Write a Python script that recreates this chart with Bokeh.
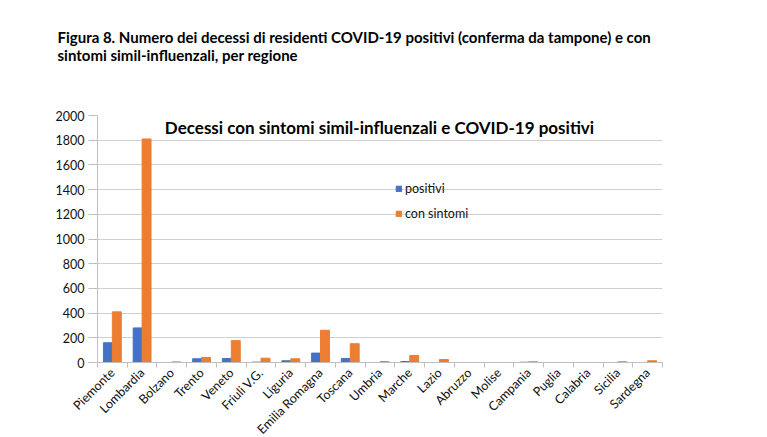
from math import pi
import numpy as np
from bokeh.plotting import figure
from bokeh.models import Range1d, FixedTicker, Label, Legend, LegendItem, Title
from bokeh.embed import file_html
from bokeh.resources import INLINE

# Deaths per region: COVID-19 positive vs. with flu-like symptoms
regions = ["Piemonte", "Lombardia", "Bolzano", "Trento", "Veneto", "Friuli V.G.",
           "Liguria", "Emilia Romagna", "Toscana", "Umbria", "Marche", "Lazio",
           "Abruzzo", "Molise", "Campania", "Puglia", "Calabria", "Sicilia", "Sardegna"]
positivi = [160, 280, 0, 30, 33, 3, 14, 76, 33, 0, 8, 0, 0, 0, 2, 0, 0, 0, 0]
con_sintomi = [410, 1810, 5, 41, 177, 35, 30, 261, 152, 8, 57, 24, 0, 0, 6, 0, 0, 6, 14]
y_ticks = list(range(0, 2001, 200))

BLUE = "#4472C4"
ORANGE = "#ED7D31"
FONT = "Lato"
TEXT = "#111111"

n = len(regions)
centers = np.arange(n) + 0.5
bar_w = 0.3

p = figure(width=767, height=437, frame_width=565, frame_height=247,
           output_backend="svg", toolbar_location=None,
           x_range=Range1d(0, n), y_range=Range1d(0, 2000),
           min_border_left=97, min_border_right=105,
           min_border_top=115, min_border_bottom=60)
p.outline_line_color = None
p.background_fill_color = "white"
p.border_fill_color = "white"

r_pos = p.vbar(x=centers - bar_w / 2, top=positivi, width=bar_w, color=BLUE)
r_con = p.vbar(x=centers + bar_w / 2, top=con_sintomi, width=bar_w, color=ORANGE)

# x axis: names under each group, short ticks between groups
p.xaxis.ticker = FixedTicker(ticks=list(centers), minor_ticks=list(range(n + 1)))
p.xaxis.major_label_overrides = {float(c): r for c, r in zip(centers, regions)}
p.xaxis.major_label_orientation = pi / 4
p.xaxis.major_tick_out = 0
p.xaxis.major_tick_in = 0
p.xaxis.minor_tick_out = 5
p.xaxis.minor_tick_in = 0
p.xaxis.minor_tick_line_color = "#bfbfbf"
p.xaxis.axis_line_color = "#bfbfbf"
p.xaxis.major_label_standoff = 3

p.yaxis.ticker = FixedTicker(ticks=y_ticks)
p.yaxis.minor_tick_line_color = None
p.yaxis.major_tick_out = 9
p.yaxis.major_tick_in = 0
p.yaxis.major_tick_line_color = "#bfbfbf"
p.yaxis.axis_line_color = "#bfbfbf"
p.yaxis.major_label_standoff = 4

for ax in (p.xaxis, p.yaxis):
    ax.major_label_text_font = FONT
    ax.major_label_text_font_size = "12.5px"
    ax.major_label_text_color = TEXT

p.xgrid.grid_line_color = None
p.ygrid.ticker = FixedTicker(ticks=y_ticks)
p.ygrid.grid_line_color = "#d0d0d0"

legend = Legend(items=[LegendItem(label="positivi", renderers=[r_pos]),
                       LegendItem(label="con sintomi", renderers=[r_con])],
                location=(298, 140), orientation="vertical",
                glyph_width=7, glyph_height=7, label_standoff=3,
                label_height=18, spacing=7, padding=0, margin=0,
                background_fill_alpha=0, border_line_color=None,
                label_text_font=FONT, label_text_font_size="12.5px",
                label_text_color=TEXT)
p.add_layout(legend, "center")

# chart title inside the plotting area
p.add_layout(Label(x=282, y=235, x_units="screen", y_units="screen",
                   text="Decessi con sintomi simil-influenzali e COVID-19 positivi",
                   text_font=FONT, text_font_style="bold", text_font_size="17px",
                   text_align="center", text_baseline="alphabetic", text_color="black"))

# empty band between the caption and the chart
spacer = Title(text=" ", standoff=49, text_font_size="1px")
p.add_layout(spacer, "above")

# two-line figure caption above the chart
caption = Title(text="Figura 8. Numero dei decessi di residenti COVID-19 positivi (conferma da tampone) e con\n"
                     "sintomi simil-influenzali, per regione",
                align="left", offset=-40, standoff=0, text_font=FONT,
                text_font_style="bold", text_font_size="15px", text_color="black",
                text_line_height=1.0)
p.add_layout(caption, "above")

open("out.html", "w").write(file_html(p, INLINE))
